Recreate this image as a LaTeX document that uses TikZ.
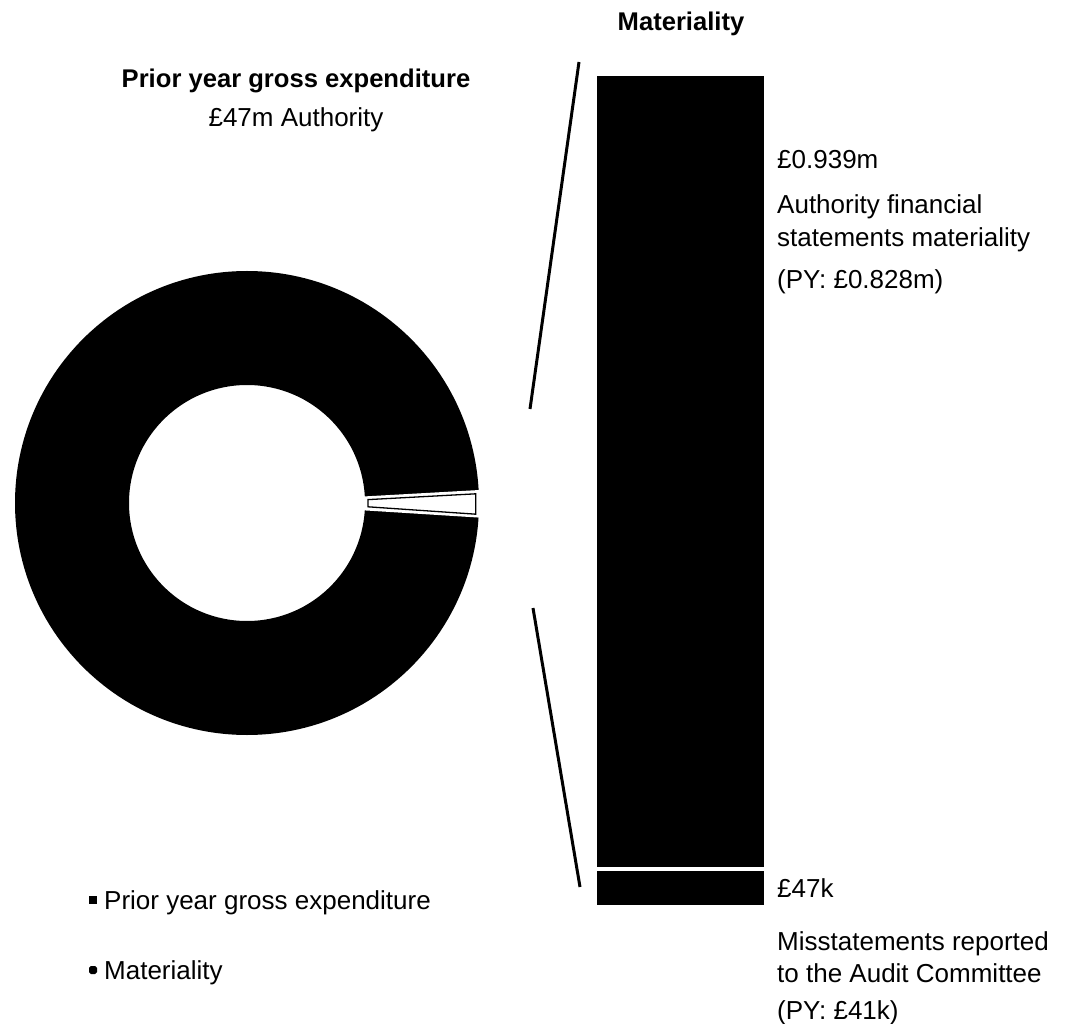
\documentclass[tikz,border=0pt]{standalone}
\usepackage{fontspec}
\setmainfont{Liberation Sans}
\usetikzlibrary{calc}
\begin{document}
\begin{tikzpicture}[x=1pt,y=-1pt,
  txt/.style={font=\fontsize{26}{30}\selectfont, inner sep=0pt, anchor=base west},
  ctxt/.style={font=\fontsize{26}{30}\selectfont, inner sep=0pt, anchor=base},
  btxt/.style={font=\fontsize{25.6}{30}\selectfont\bfseries, inner sep=0pt, anchor=base},
  zoomline/.style={line width=3pt},
  barpart/.style={fill=black, draw=none}]
\useasboundingbox (0,0) rectangle (1072,1024);
% donut
\coordinate (c) at (247,503);
\fill[black, even odd rule] (c) circle[radius=232] (c) circle[radius=118];
% materiality wedge
\fill[white] ($(c)+(-3.2:117)$) -- ($(c)+(-3.2:233)$) arc[start angle=-3.2, end angle=3.6, radius=233] -- ($(c)+(3.6:117)$) arc[start angle=3.6, end angle=-3.2, radius=117] -- cycle;
\draw[black, line width=1.3pt] ($(c)+(-1.6:121)$) -- ($(c)+(-2.3:229)$) -- ($(c)+(2.8:229)$) -- ($(c)+(1.8:121)$) -- cycle;
% bar
\fill[barpart] (597,76) rectangle (764,867);
\fill[barpart] (597,871) rectangle (764,905);
% zoom lines
\coordinate (l1a) at (579,62);
\coordinate (l1b) at (530,409);
\coordinate (l2a) at (533,608);
\coordinate (l2b) at (580,887);
\draw[zoomline] (l1a) -- (l1b);
\draw[zoomline] (l2a) -- (l2b);
% titles
\node[btxt] (mat) at (681,31) {Materiality};
\node[btxt] (pyt) at (296,88) {Prior year gross expenditure};
\node[ctxt] (pys) at (296,127) {£47m Authority};
% right labels
\node[txt] (v1) at (777,169) {£0.939m};
\node[txt] (d1) at (777,214) {Authority financial};
\node[txt] (d2) at (777,247) {statements materiality};
\node[txt] (p1) at (777,289) {(PY: £0.828m)};
\node[txt] (v2) at (777,897) {£47k};
\node[txt] (d3) at (777,950) {Misstatements reported};
\node[txt] (d4) at (777,982) {to the Audit Committee};
\node[txt] (p2) at (777,1019) {(PY: £41k)};
% legend
\fill[black] (89,896) rectangle (97,904);
\fill[black, rounded corners=1.8pt] (89,966) rectangle (97,974);
\node[txt] (lg1) at (104,909) {Prior year gross expenditure};
\node[txt] (lg2) at (104,979) {Materiality};
\end{tikzpicture}
\end{document}
